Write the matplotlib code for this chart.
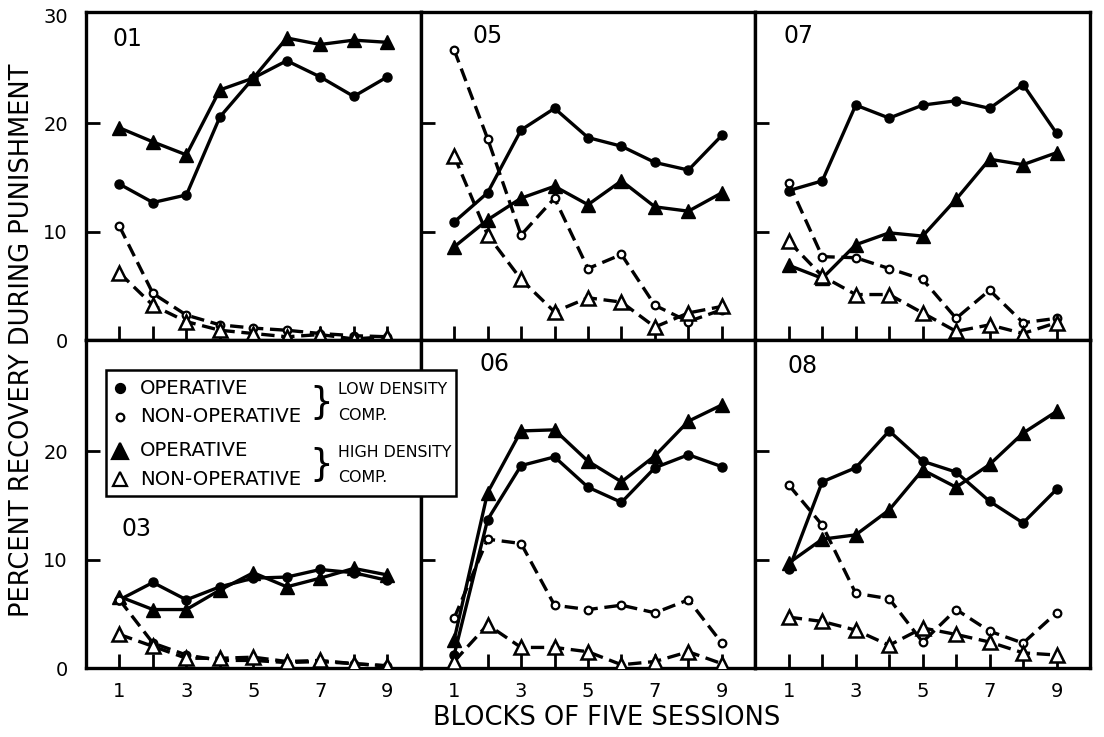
import matplotlib
matplotlib.use("Agg")
import matplotlib.pyplot as plt
from matplotlib.patches import Rectangle

blocks = [1, 2, 3, 4, 5, 6, 7, 8, 9]

# panel 01
p01_low_op = [14.4, 12.7, 13.4, 20.6, 24.2, 25.8, 24.3, 22.5, 24.3]
p01_low_non = [10.5, 4.3, 2.3, 1.4, 1.1, 0.9, 0.6, 0.4, 0.3]
p01_high_op = [19.6, 18.3, 17.1, 23.1, 24.2, 27.9, 27.3, 27.7, 27.5]
p01_high_non = [6.2, 3.2, 1.7, 0.9, 0.6, 0.3, 0.5, 0.1, 0.3]
# panel 05
p05_low_op = [10.9, 13.6, 19.4, 21.4, 18.7, 17.9, 16.4, 15.7, 18.9]
p05_low_non = [26.8, 18.6, 9.7, 13.1, 6.6, 7.9, 3.2, 1.7, 2.8]
p05_high_op = [8.6, 11.1, 13.1, 14.2, 12.5, 14.7, 12.3, 11.9, 13.6]
p05_high_non = [17.0, 9.7, 5.6, 2.6, 3.9, 3.5, 1.2, 2.5, 3.1]
# panel 07
p07_low_op = [13.8, 14.7, 21.7, 20.5, 21.7, 22.1, 21.4, 23.6, 19.1]
p07_low_non = [14.5, 7.7, 7.6, 6.6, 5.6, 2.0, 4.6, 1.6, 2.0]
p07_high_op = [6.9, 5.7, 8.8, 9.9, 9.6, 13.0, 16.7, 16.2, 17.3]
p07_high_non = [9.1, 5.9, 4.2, 4.2, 2.5, 0.8, 1.4, 0.6, 1.6]
# panel 03
p03_low_op = [6.3, 7.9, 6.3, 7.5, 8.3, 8.4, 9.1, 8.8, 8.1]
p03_low_non = [6.3, 2.3, 1.2, 0.7, 0.7, 0.5, 0.6, 0.4, 0.2]
p03_high_op = [6.6, 5.4, 5.4, 7.2, 8.8, 7.5, 8.3, 9.2, 8.6]
p03_high_non = [3.1, 2.0, 0.9, 0.9, 1.0, 0.6, 0.7, 0.4, 0.2]
# panel 06
p06_low_op = [1.2, 13.7, 18.7, 19.5, 16.7, 15.3, 18.5, 19.7, 18.6]
p06_low_non = [4.6, 11.9, 11.5, 5.8, 5.4, 5.8, 5.1, 6.3, 2.3]
p06_high_op = [2.6, 16.2, 21.9, 22.0, 19.1, 17.2, 19.6, 22.8, 24.3]
p06_high_non = [0.6, 4.0, 1.9, 1.9, 1.5, 0.3, 0.6, 1.5, 0.4]
# panel 08
p08_low_op = [9.1, 17.2, 18.5, 21.9, 19.1, 18.1, 15.4, 13.4, 16.5]
p08_low_non = [16.9, 13.2, 6.9, 6.4, 2.4, 5.4, 3.4, 2.3, 5.1]
p08_high_op = [9.7, 11.9, 12.3, 14.6, 18.3, 16.7, 18.8, 21.7, 23.7]
p08_high_non = [4.7, 4.3, 3.5, 2.1, 3.7, 3.1, 2.4, 1.4, 1.2]

panels = [
    ("01", p01_low_op, p01_low_non, p01_high_op, p01_high_non, (1.25, 27.8)),
    ("05", p05_low_op, p05_low_non, p05_high_op, p05_high_non, (2.0, 28.1)),
    ("07", p07_low_op, p07_low_non, p07_high_op, p07_high_non, (1.3, 28.1)),
    ("03", p03_low_op, p03_low_non, p03_high_op, p03_high_non, (1.5, 12.8)),
    ("06", p06_low_op, p06_low_non, p06_high_op, p06_high_non, (2.2, 28.1)),
    ("08", p08_low_op, p08_low_non, p08_high_op, p08_high_non, (1.4, 27.9)),
]

W, H = 1104, 737
fig = plt.figure(figsize=(W / 100, H / 100), dpi=100)

left_px, right_px = 86, 1090
top_px, mid_px, bot_px = 12, 340, 668
col_w = (right_px - left_px) / 3

lw = 2.4
dash = (0, (4, 2))

for i, (name, low_op, low_non, high_op, high_non, lab_pos) in enumerate(panels):
    row, col = divmod(i, 3)
    x0 = left_px + col * col_w
    y_top = top_px if row == 0 else mid_px
    y_bot = mid_px if row == 0 else bot_px
    ax = fig.add_axes([x0 / W, 1 - y_bot / H, col_w / W, (y_bot - y_top) / H])

    ax.plot(blocks, low_op, color="black", lw=lw, marker="o", ms=6.5,
            mfc="black", mec="black", zorder=3)
    ax.plot(blocks, high_op, color="black", lw=lw, marker="^", ms=10.5,
            mfc="black", mec="black", zorder=3)
    ax.plot(blocks, low_non, color="black", lw=lw, ls=dash, marker="o", ms=5.5,
            mfc="white", mec="black", mew=1.6, zorder=4)
    ax.plot(blocks, high_non, color="black", lw=lw, ls=dash, marker="^", ms=9.5,
            mfc="white", mec="black", mew=1.8, zorder=4)

    ax.set_xlim(0, 10)
    ax.set_ylim(0, 30.3)
    ax.set_xticks(blocks)
    ax.set_yticks([0, 10, 20, 30] if row == 0 else [0, 10, 20])
    ax.tick_params(direction="in", length=10, width=2, labelsize=14, pad=10)
    # tick marks at the panel edges would sit on the frame
    yt = ax.yaxis.get_major_ticks()
    yt[0].tick1line.set_visible(False)
    if row == 0:
        yt[-1].tick1line.set_visible(False)
    for s in ax.spines.values():
        s.set_linewidth(2.4)

    if col == 0:
        ax.set_yticklabels([str(v) for v in ax.get_yticks().astype(int)])
        ax.tick_params(axis="y", pad=13)
    else:
        ax.set_yticklabels([])
    if row == 1:
        ax.set_xticklabels([str(b) if b % 2 else "" for b in blocks])
    else:
        ax.set_xticklabels([])

    ax.text(lab_pos[0], lab_pos[1], name, fontsize=17, ha="center", va="center")

# legend box drawn in figure coords
box_l, box_r, box_t, box_b = 106, 456, 370, 496
fig.patches.append(Rectangle((box_l / W, 1 - box_b / H), (box_r - box_l) / W,
                             (box_b - box_t) / H, transform=fig.transFigure,
                             facecolor="white", edgecolor="black", lw=1.8, zorder=10))

leg_rows = [388, 417, 451, 479]
leg_markers = [("o", "black", 6.5), ("o", "white", 5.5), ("^", "black", 11), ("^", "white", 9.5)]
leg_text = ["OPERATIVE", "NON-OPERATIVE", "OPERATIVE", "NON-OPERATIVE"]
for y, (m, fc, ms), t in zip(leg_rows, leg_markers, leg_text):
    fig.lines.append(plt.Line2D([120 / W], [1 - y / H], marker=m, ms=ms, mfc=fc,
                                mec="black", mew=1.6, ls="none",
                                transform=fig.transFigure, zorder=11))
    fig.text(140 / W, 1 - y / H, t, fontsize=14.2, va="center", ha="left", zorder=11)

for ya, yb, lines in [(388, 417, "LOW DENSITY\nCOMP."), (451, 479, "HIGH DENSITY\nCOMP.")]:
    yc = (ya + yb) / 2
    fig.text(321 / W, 1 - yc / H, "}", fontsize=27, va="center", ha="center",
             zorder=11)
    fig.text(338 / W, 1 - yc / H, lines, fontsize=11.4, va="center", ha="left",
             linespacing=1.9, zorder=11)

fig.text(22 / W, 1 - 340 / H, "PERCENT RECOVERY DURING PUNISHMENT", rotation=90,
         fontsize=18.5, ha="center", va="center")
fig.text(607 / W, 1 - 718 / H, "BLOCKS OF FIVE SESSIONS", fontsize=18.5,
         ha="center", va="center")

fig.savefig("out.png", dpi=100)
